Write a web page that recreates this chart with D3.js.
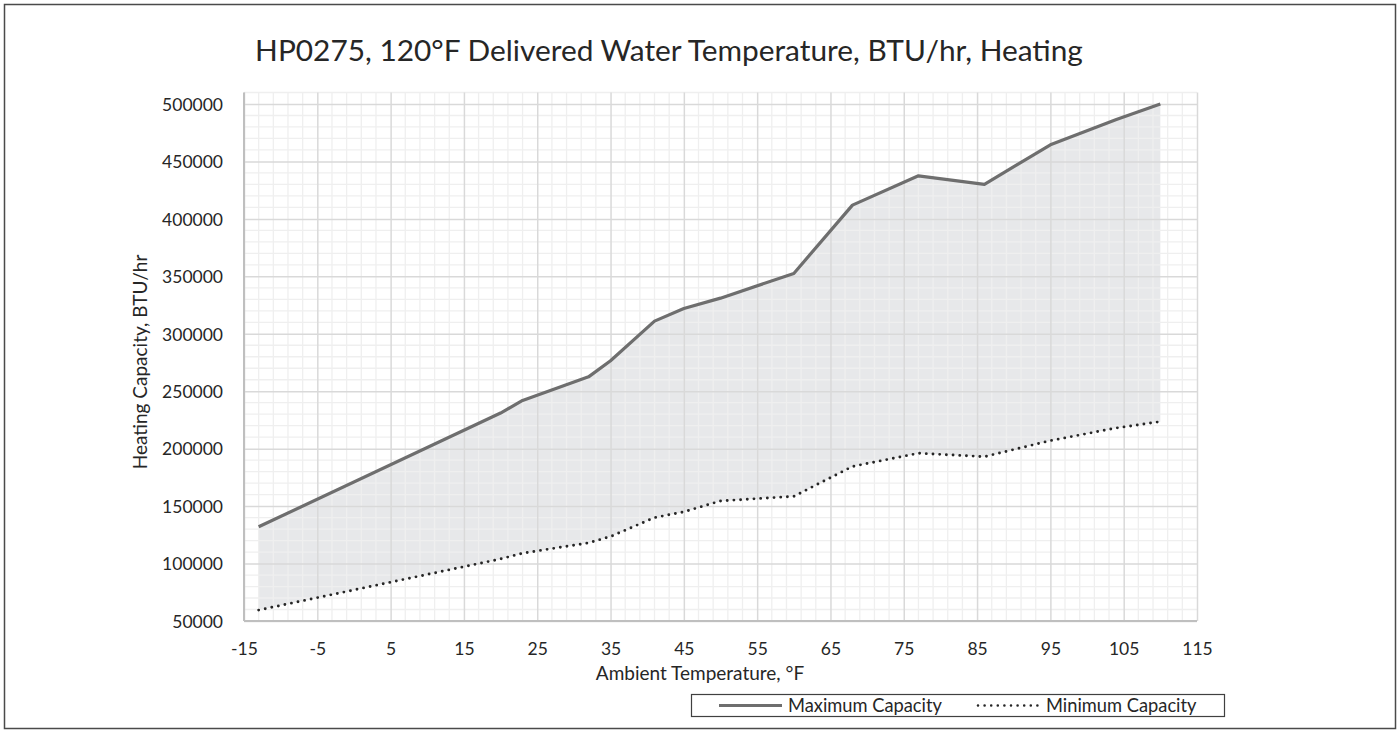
<!DOCTYPE html>
<html>
<head>
<meta charset="utf-8">
<script src="https://cdn.jsdelivr.net/npm/d3@7"></script>
<style>
    html, body { margin: 0; padding: 0; background: #fff; }
    svg text { font-family: Lato, "Open Sans", sans-serif; fill: #262626; }
</style>
</head>
<body>
<div id="viewport"></div>
<script>
// data
const chartTitle = "HP0275, 120°F Delivered Water Temperature, BTU/hr, Heating";
const xTitle = "Ambient Temperature, °F";
const yTitle = "Heating Capacity, BTU/hr";
const seriesNames = ["Maximum Capacity", "Minimum Capacity"];

const temps = [-13, 20, 23, 32, 35, 41, 45, 50, 60, 68, 77, 86, 95, 104, 110];
const maxCapacity = [132000, 231000, 242000, 262500, 276500, 311000, 322000, 331000, 352500, 412000, 437500, 430000, 464500, 486500, 500000];
const minCapacity = [59500, 104000, 109000, 118000, 123500, 140000, 145000, 154500, 158500, 184500, 196000, 193000, 207000, 218000, 223500];

const xTicks = [-15, -5, 5, 15, 25, 35, 45, 55, 65, 75, 85, 95, 105, 115];
const yTicks = [50000, 100000, 150000, 200000, 250000, 300000, 350000, 400000, 450000, 500000];

const size = { width: 1400, height: 733 };
const plot = { left: 244, right: 1197, top: 92.5, bottom: 621 };

const svg = d3.select("#viewport")
    .append("svg")
    .attr("width", size.width)
    .attr("height", size.height);

// outer chart frame
svg.append("rect")
    .attr("x", 4.5).attr("y", 4.5)
    .attr("width", 1391).attr("height", 724)
    .attr("fill", "#fff")
    .attr("stroke", "#4a4a4a")
    .attr("stroke-width", 1.5);

const x = d3.scaleLinear().domain([-15, 115]).range([plot.left, plot.right]);
const y = d3.scaleLinear().domain([50000, 510000]).range([plot.bottom, plot.top]);

const rows = temps.map((t, i) => ({ t, max: maxCapacity[i], min: minCapacity[i] }));

// band between min and max
svg.append("path")
    .datum(rows)
    .attr("fill", "#e7e8ea")
    .attr("d", d3.area()
        .x(d => x(d.t))
        .y0(d => y(d.min))
        .y1(d => y(d.max)));

// minor grid, every 2 °F and 10000 BTU/hr
const grid = svg.append("g").attr("class", "grid");
grid.selectAll(".minor-x")
    .data(d3.range(-15, 115.1, 2).filter(v => (v + 15) % 10 !== 0))
    .join("line")
    .attr("x1", d => x(d)).attr("x2", d => x(d))
    .attr("y1", plot.top).attr("y2", plot.bottom)
    .attr("stroke", "#efefef").attr("stroke-width", 1.3);
grid.selectAll(".minor-y")
    .data(d3.range(60000, 510001, 10000).filter(v => v % 50000 !== 0))
    .join("line")
    .attr("y1", d => y(d)).attr("y2", d => y(d))
    .attr("x1", plot.left).attr("x2", plot.right)
    .attr("stroke", "#efefef").attr("stroke-width", 1.3);

// major grid
svg.append("g")
    .attr("transform", `translate(0,${plot.bottom})`)
    .call(d3.axisBottom(x).tickValues(xTicks).tickSize(-(plot.bottom - plot.top)).tickFormat(""))
    .call(g => g.select(".domain").remove())
    .call(g => g.selectAll("line").attr("stroke", "#d9d9d9").attr("stroke-width", 1.5));
svg.append("g")
    .attr("transform", `translate(${plot.left},0)`)
    .call(d3.axisLeft(y).tickValues(yTicks).tickSize(-(plot.right - plot.left)).tickFormat(""))
    .call(g => g.select(".domain").remove())
    .call(g => g.selectAll("line").attr("stroke", "#d9d9d9").attr("stroke-width", 1.5));

// axis lines
svg.append("line")
    .attr("x1", plot.left).attr("x2", plot.left)
    .attr("y1", plot.top).attr("y2", plot.bottom)
    .attr("stroke", "#bfbfbf").attr("stroke-width", 2);
svg.append("line")
    .attr("x1", plot.left).attr("x2", plot.right)
    .attr("y1", plot.bottom).attr("y2", plot.bottom)
    .attr("stroke", "#bfbfbf").attr("stroke-width", 2);

// tick labels (plain hyphen for negatives, as in the reference)
svg.append("g")
    .attr("transform", `translate(0,${plot.bottom})`)
    .call(d3.axisBottom(x).tickValues(xTicks).tickSize(0).tickPadding(0).tickFormat(d => String(d)))
    .call(g => g.select(".domain").remove())
    .call(g => g.selectAll("text")
        .attr("y", 34).attr("dy", 0)
        .style("font-family", "Lato, sans-serif")
        .style("font-size", "17.5px").attr("fill", "#262626"));
svg.append("g")
    .attr("transform", `translate(${plot.left},0)`)
    .call(d3.axisLeft(y).tickValues(yTicks).tickSize(0).tickPadding(0).tickFormat(d => String(d)))
    .call(g => g.select(".domain").remove())
    .call(g => g.selectAll("text")
        .attr("x", -21).attr("dy", "0.36em")
        .style("font-family", "Lato, sans-serif")
        .style("font-size", "17.5px").attr("fill", "#262626"));

// series lines
const line = key => d3.line().x(d => x(d.t)).y(d => y(d[key]));

svg.append("path")
    .datum(rows)
    .attr("fill", "none")
    .attr("stroke", "#6e6e6e")
    .attr("stroke-width", 3.2)
    .attr("stroke-linejoin", "round")
    .attr("d", line("max"));

svg.append("path")
    .datum(rows)
    .attr("fill", "none")
    .attr("stroke", "#262626")
    .attr("stroke-width", 2.9)
    .attr("stroke-linecap", "round")
    .attr("stroke-dasharray", "0 6.7")
    .attr("d", line("min"));

// titles
const title = svg.append("text")
    .attr("x", 669).attr("y", 61)
    .attr("text-anchor", "middle")
    .style("font-size", "30px")
    .text(chartTitle);
// fit the title to the width it takes in the reference
const titleLen = title.node().getComputedTextLength();
title.style("font-size", (30 * 828 / titleLen).toFixed(2) + "px");

svg.append("text")
    .attr("x", 700).attr("y", 680)
    .attr("text-anchor", "middle")
    .style("font-size", "19px")
    .text(xTitle);

svg.append("text")
    .attr("transform", "translate(147,362) rotate(-90)")
    .attr("text-anchor", "middle")
    .style("font-size", "19px")
    .text(yTitle);

// legend
const legend = svg.append("g").attr("class", "legend");
legend.append("rect")
    .attr("x", 691.5).attr("y", 694.5)
    .attr("width", 533).attr("height", 22)
    .attr("fill", "#fff")
    .attr("stroke", "#404040")
    .attr("stroke-width", 1.2);

const legendItems = [
    { name: seriesNames[0], x0: 719, x1: 782, tx: 788, stroke: "#6e6e6e", width: 3.2, dash: null, cap: "butt" },
    { name: seriesNames[1], x0: 978, x1: 1038, tx: 1046, stroke: "#262626", width: 2.6, dash: "0 6.6", cap: "round" }
];
legendItems.forEach(item => {
    legend.append("line")
        .attr("x1", item.x0).attr("x2", item.x1)
        .attr("y1", 705.5).attr("y2", 705.5)
        .attr("stroke", item.stroke)
        .attr("stroke-width", item.width)
        .attr("stroke-linecap", item.cap)
        .attr("stroke-dasharray", item.dash);
    legend.append("text")
        .attr("x", item.tx).attr("y", 705.5)
        .attr("dy", "0.36em")
        .style("font-size", "18.3px")
        .text(item.name);
});
</script>
</body>
</html>
